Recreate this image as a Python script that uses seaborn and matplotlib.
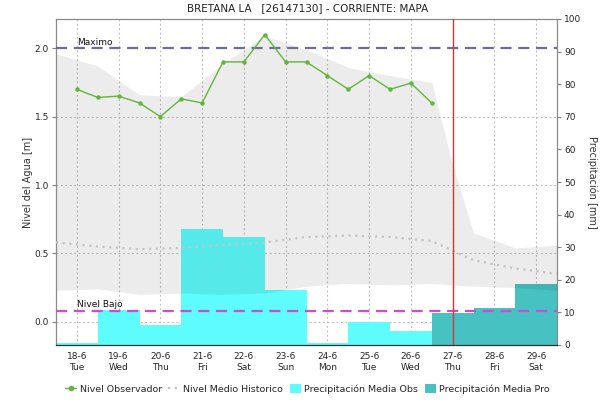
import matplotlib
matplotlib.use("Agg")
import matplotlib.pyplot as plt
import seaborn as sns
import numpy as np
import pandas as pd
from matplotlib.lines import Line2D
from matplotlib.patches import Patch

# ---------------- data ----------------
day_labels = ['18-6', '19-6', '20-6', '21-6', '22-6', '23-6', '24-6', '25-6', '26-6', '27-6', '28-6', '29-6']
weekdays = ['Tue', 'Wed', 'Thu', 'Fri', 'Sat', 'Sun', 'Mon', 'Tue', 'Wed', 'Thu', 'Fri', 'Sat']

precip_obs = [0.7, 10.7, 6.2, 35.5, 33.0, 17.0, 0.7, 7.0, 4.4]
precip_pro = [9.7, 11.3, 18.8]

obs_x = [0, 0.5, 1, 1.5, 2, 2.5, 3, 3.5, 4, 4.5, 5, 5.5, 6, 6.5, 7, 7.5, 8, 8.5]
obs_level = [1.70, 1.64, 1.65, 1.60, 1.50, 1.63, 1.60, 1.90, 1.90, 2.10,
             1.90, 1.90, 1.80, 1.70, 1.80, 1.70, 1.745, 1.60]

hist_x = [-0.5, 0.5, 1.5, 2.5, 3.5, 4.5, 5.5, 6.5, 7.5, 8.5, 9.0, 9.5, 10.5, 11.5]
hist_mean = [0.58, 0.55, 0.53, 0.54, 0.56, 0.58, 0.62, 0.63, 0.62, 0.59, 0.52, 0.45, 0.39, 0.35]

band_x = [-0.5, 0.5, 1.5, 2.5, 3.5, 4.5, 5.5, 6.5, 7.5, 8.5, 9.0, 9.5, 10.5, 11.5]
band_upper = [1.96, 1.87, 1.66, 1.645, 1.89, 2.09, 1.99, 1.86, 1.80, 1.75, 1.15, 0.65, 0.54, 0.56]
band_lower = [0.23, 0.24, 0.20, 0.21, 0.20, 0.21, 0.26, 0.28, 0.27, 0.28, 0.27, 0.26, 0.25, 0.23]

nivel_max = 2.0
nivel_bajo = 0.08
now_x = 9.0

title = "BRETANA LA   [26147130] - CORRIENTE: MAPA"

# ---------------- figure ----------------
sns.set_style("white")
plt.rcParams['font.family'] = ['DejaVu Sans']

fig = plt.figure(figsize=(6.15, 4.04), dpi=100)
axp = fig.add_axes([56 / 615, 1 - 345 / 404, (557 - 56) / 615, (345 - 19) / 404])
axl = axp.twinx()

# precipitation bars (bottom axes)
n_obs = len(precip_obs)
df = pd.DataFrame({
    'd': list(range(len(day_labels))),
    'p': precip_obs + precip_pro,
    'tipo': ['obs'] * n_obs + ['pro'] * len(precip_pro),
})
sns.barplot(data=df, x='d', y='p', hue='tipo', dodge=False, native_scale=True,
            width=1.0, palette={'obs': '#5EFCFC', 'pro': '#46C2C2'},
            saturation=1, linewidth=0, errorbar=None, legend=False, ax=axp, zorder=2)

axp.set_xlim(-0.5, 11.5)
axp.set_ylim(0, 100)
axp.set_yticks(range(0, 101, 10))
axp.yaxis.tick_right()
axp.yaxis.set_label_position('right')
axp.set_xticks(range(len(day_labels)))
axp.set_xticklabels([f"{d}\n{w}" for d, w in zip(day_labels, weekdays)], fontsize=6.5, linespacing=1.3)
axp.set_xlabel('')
axp.set_ylabel('Precipitación [mm]', rotation=270, labelpad=12, fontsize=7, color='#333333')
axp.tick_params(axis='y', labelsize=6.5, length=3, color='#808080', pad=2)
axp.tick_params(axis='x', length=0, pad=5)
axp.set_axisbelow(True)
axp.grid(axis='x', linestyle=(0, (1.5, 2.5)), color='#B8B8B8', linewidth=0.8)
axp.grid(axis='y', visible=False)
for s in axp.spines.values():
    s.set_visible(False)

# level axes (top)
axl.yaxis.tick_left()
axl.yaxis.set_label_position('left')
axl.set_ylim(-0.170, 2.214)
axl.set_yticks([0.0, 0.5, 1.0, 1.5, 2.0])
axl.set_yticklabels(['0.0', '0.5', '1.0', '1.5', '2.0'])
axl.tick_params(axis='y', labelsize=6.5, length=3, color='#808080', pad=2)
axl.set_ylabel('Nivel del Agua [m]', fontsize=7, color='#333333', labelpad=1)

# horizontal grid drawn under the bars on the precip axes (converted positions)
for lv in [0.0, 0.5, 1.0, 1.5]:
    yy = (lv + 0.170) / (2.214 + 0.170) * 100
    axp.axhline(yy, linestyle=(0, (1.5, 2.5)), color='#B8B8B8', linewidth=0.8, zorder=0.5)

# historical band (darkens what lies below, like a multiply)
axl.fill_between(band_x, band_lower, band_upper, color='black', alpha=0.075, linewidth=0, zorder=1)

# historical mean
sns.lineplot(x=hist_x, y=hist_mean, ax=axl, color='#C4C4C4', linewidth=1.6,
             linestyle=(0, (1, 2)), zorder=3)

# thresholds
axl.axhline(nivel_max, color='#6E6E92', linestyle=(0, (5, 3)), linewidth=1.6, zorder=4)
axl.axhline(nivel_bajo, color='#D548D5', linestyle=(0, (5, 3)), linewidth=1.6, zorder=4)
axl.text(0, nivel_max + 0.01, 'Maximo', fontsize=6.5, ha='left', va='bottom', color='#111111')
axl.text(0, nivel_bajo + 0.01, 'Nivel Bajo', fontsize=6.5, ha='left', va='bottom', color='#111111')

# observed level
sns.lineplot(x=obs_x, y=obs_level, ax=axl, color='#62B53A', linewidth=1.0,
             marker='o', markersize=3.2, markeredgewidth=0, zorder=5)

# now line
axl.axvline(now_x, color='#D83434', linewidth=1.0, zorder=6)

axl.set_xlim(-0.5, 11.5)
for name, s in axl.spines.items():
    s.set_color('#8A8A8A')
    s.set_linewidth(0.9)
axl.spines['bottom'].set_color('#333333')
axl.spines['bottom'].set_linestyle((0, (1, 1)))

fig.text(0.5, 1 - 8 / 404, title, ha='center', va='center', fontsize=7.5, color='#222222')

handles = [
    Line2D([0], [0], color='#62B53A', marker='o', markersize=3, linewidth=1),
    Line2D([0], [0], color='#C4C4C4', linestyle=(0, (1, 2)), linewidth=1.6),
    Patch(facecolor='#5EFCFC', edgecolor='none'),
    Patch(facecolor='#46C2C2', edgecolor='none'),
]
labels = ['Nivel Observador', 'Nivel Medio Historico', 'Precipitación Media Obs', 'Precipitación Media Pro']
fig.legend(handles, labels, loc='center', bbox_to_anchor=(0.5, 1 - 389 / 404), ncol=4,
           frameon=False, fontsize=6.8, handlelength=1.2, handletextpad=0.35, columnspacing=0.7,
           handleheight=1.1)

fig.savefig('out.png', dpi=100)
